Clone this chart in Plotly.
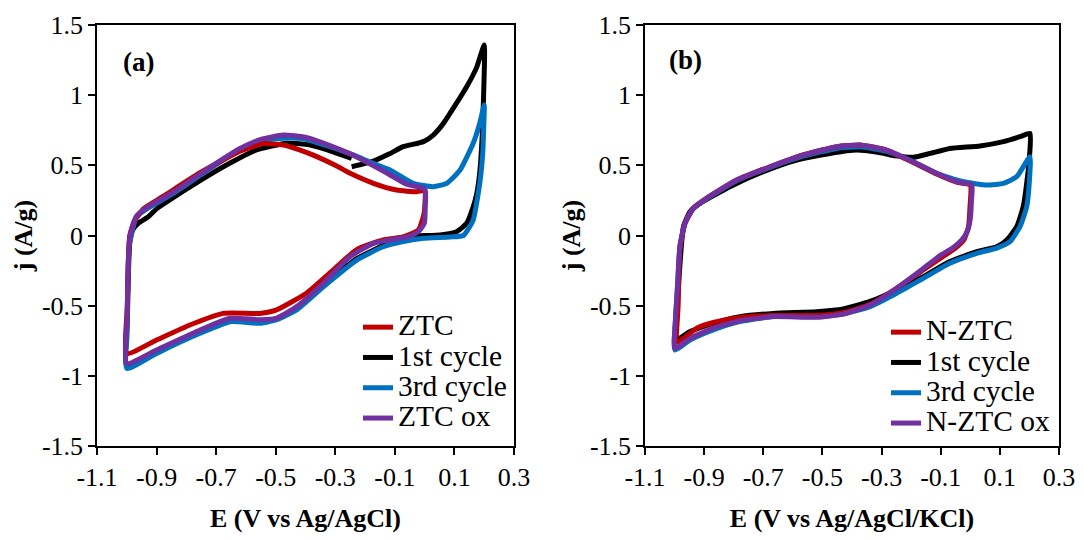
import plotly.graph_objects as go

# ---------------- data ----------------
# Panel (a)
a_ztc_E = [-1.0, -0.998, -0.995, -0.99, -0.975, -0.944, -0.877, -0.754, -0.62, -0.542, -0.474, -0.42, -0.362, -0.3, -0.25, -0.172, -0.094, -0.027, 0.0,
           -0.002, -0.021, -0.072, -0.139, -0.228, -0.318, -0.396, -0.497, -0.553, -0.676, -0.788, -0.9, -1.0]
a_ztc_j = [-0.84, -0.5, -0.2, 0.0, 0.1, 0.19, 0.28, 0.447, 0.60, 0.655, 0.645, 0.61, 0.562, 0.5, 0.443, 0.372, 0.324, 0.312, 0.32,
           0.158, 0.039, -0.01, -0.032, -0.10, -0.267, -0.41, -0.53, -0.555, -0.555, -0.638, -0.745, -0.84]

a_c1_E = [-0.245, -0.172, -0.12, -0.072, -0.004, 0.029, 0.06, 0.085, 0.141, 0.175, 0.2,
          0.198, 0.193, 0.185, 0.175, 0.163, 0.141, 0.107, 0.052, -0.027, -0.094,
          -0.139, -0.228, -0.34, -0.43, -0.497, -0.553, -0.653, -0.754, -0.9, -1.0,
          -0.998, -0.995, -0.99, -0.98, -0.96, -0.93, -0.9, -0.8, -0.732, -0.65, -0.564, -0.463, -0.4, -0.34, -0.245]
a_c1_j = [0.49, 0.53, 0.58, 0.633, 0.669, 0.716, 0.79, 0.87, 1.06, 1.2, 1.357,
          1.0, 0.7, 0.45, 0.3, 0.205, 0.087, 0.027, 0.004, -0.003, -0.02,
          -0.07, -0.165, -0.355, -0.52, -0.59, -0.615, -0.605, -0.685, -0.83, -0.93,
          -0.6, -0.3, -0.05, 0.04, 0.09, 0.13, 0.19, 0.33, 0.42, 0.52, 0.61, 0.657, 0.65, 0.62, 0.55]

a_c3_E = [-1.0, -0.999, -0.997, -0.993, -0.985, -0.967, -0.933, -0.844, -0.732, -0.62, -0.55, -0.497, -0.45, -0.407, -0.318, -0.24, -0.18, -0.116, -0.038, 0.029, 0.074, 0.119, 0.163, 0.185, 0.2,
          0.198, 0.195, 0.188, 0.18, 0.163, 0.13, 0.085, -0.004, -0.072, -0.139, -0.228, -0.34, -0.43, -0.497, -0.553, -0.653, -0.754, -0.9, -1.0]
a_c3_j = [-0.947, -0.7, -0.36, -0.1, 0.0, 0.134, 0.19, 0.30, 0.46, 0.61, 0.67, 0.69, 0.695, 0.69, 0.633, 0.574, 0.52, 0.467, 0.372, 0.348, 0.372, 0.467, 0.657, 0.8, 0.93,
          0.75, 0.586, 0.42, 0.30, 0.11, 0.0, -0.01, -0.02, -0.044, -0.08, -0.175, -0.365, -0.53, -0.60, -0.626, -0.614, -0.697, -0.84, -0.947]

a_ox_E = [-1.0, -0.999, -0.996, -0.992, -0.983, -0.967, -0.933, -0.844, -0.732, -0.62, -0.55, -0.474, -0.4, -0.318, -0.228, -0.139, -0.06, 0.001,
          0.002, -0.001, -0.021, -0.049, -0.116, -0.172, -0.25, -0.34, -0.43, -0.497, -0.553, -0.653, -0.754, -0.9, -1.0]
a_ox_j = [-0.911, -0.6, -0.3, -0.05, 0.05, 0.14, 0.2, 0.31, 0.47, 0.62, 0.685, 0.716, 0.70, 0.64, 0.56, 0.46, 0.365, 0.33,
          0.206, 0.087, 0.027, -0.004, -0.032, -0.056, -0.15, -0.34, -0.507, -0.59, -0.60, -0.59, -0.674, -0.816, -0.911]

# Panel (b)
b_nztc_E = [-0.99, -0.988, -0.982, -0.965, -0.937, -0.892, -0.79, -0.677, -0.565, -0.452, -0.373, -0.283, -0.193, -0.114, -0.046, 0.0,
            -0.001, -0.006, -0.022, -0.05, -0.102, -0.159, -0.249, -0.339, -0.43, -0.52, -0.666, -0.779, -0.869, -0.925, -0.99]
b_nztc_j = [-0.76, -0.5, -0.1, 0.087, 0.194, 0.265, 0.395, 0.49, 0.574, 0.633, 0.645, 0.609, 0.52, 0.438, 0.38, 0.36,
            0.206, 0.063, -0.032, -0.09, -0.163, -0.246, -0.376, -0.49, -0.55, -0.57, -0.57, -0.585, -0.62, -0.66, -0.76]

b_c1_E = [-0.271, -0.193, -0.136, -0.069, 0.033, 0.112, 0.168, 0.202,
          0.201, 0.196, 0.179, 0.157, 0.123, 0.089, 0.022, -0.069, -0.159, -0.249, -0.339, -0.43, -0.52, -0.666, -0.779, -0.869, -0.948, -0.995,
          -0.993, -0.985, -0.978, -0.97, -0.948, -0.914, -0.813, -0.7, -0.587, -0.474, -0.384, -0.294, -0.271]
b_c1_j = [0.574, 0.557, 0.585, 0.62, 0.638, 0.669, 0.704, 0.728,
          0.585, 0.467, 0.206, 0.063, -0.032, -0.08, -0.115, -0.186, -0.293, -0.388, -0.47, -0.524, -0.543, -0.555, -0.578, -0.626, -0.685, -0.745,
          -0.6, -0.3, -0.1, 0.063, 0.17, 0.229, 0.348, 0.455, 0.538, 0.585, 0.609, 0.585, 0.574]

b_c3_E = [-0.999, -0.997, -0.99, -0.982, -0.965, -0.937, -0.892, -0.79, -0.677, -0.565, -0.452, -0.373, -0.283, -0.193, -0.114, -0.023, 0.055, 0.112, 0.157, 0.202,
          0.2, 0.191, 0.168, 0.134, 0.089, 0.022, -0.069, -0.159, -0.249, -0.339, -0.43, -0.52, -0.666, -0.779, -0.869, -0.948, -0.999]
b_c3_j = [-0.816, -0.6, -0.36, -0.08, 0.087, 0.19, 0.26, 0.39, 0.485, 0.565, 0.62, 0.632, 0.60, 0.526, 0.443, 0.383, 0.36, 0.372, 0.419, 0.562,
          0.395, 0.206, 0.063, -0.044, -0.09, -0.127, -0.198, -0.305, -0.412, -0.507, -0.56, -0.578, -0.578, -0.614, -0.673, -0.745, -0.816]

b_ox_E = [-0.999, -0.997, -0.99, -0.982, -0.965, -0.937, -0.892, -0.79, -0.677, -0.565, -0.452, -0.373, -0.283, -0.193, -0.114, -0.046, 0.005,
          0.004, 0.0, -0.01, -0.028, -0.06, -0.1, -0.159, -0.249, -0.339, -0.43, -0.52, -0.666, -0.779, -0.869, -0.948, -0.999]
b_ox_j = [-0.804, -0.6, -0.36, -0.08, 0.087, 0.194, 0.265, 0.395, 0.49, 0.574, 0.633, 0.645, 0.609, 0.526, 0.443, 0.383, 0.36,
          0.25, 0.12, 0.03, -0.03, -0.09, -0.14, -0.235, -0.376, -0.495, -0.56, -0.583, -0.578, -0.607, -0.66, -0.733, -0.804]

x_tickvals = [-1.1, -0.9, -0.7, -0.5, -0.3, -0.1, 0.1, 0.3]
x_ticktext = ["-1.1", "-0.9", "-0.7", "-0.5", "-0.3", "-0.1", "0.1", "0.3"]
y_tickvals = [-1.5, -1.0, -0.5, 0.0, 0.5, 1.0, 1.5]
y_ticktext = ["-1.5", "-1", "-0.5", "0", "0.5", "1", "1.5"]

RED, BLACK, BLUE, PURPLE = "#C00000", "#000000", "#0070C0", "#7030A0"
FONT = "Liberation Serif"
LW = 5

def nm(t):
    return "<span style='font-size:29.5px'>" + t + "</span>"

fig = go.Figure()

def add(E, j, name, color, xa, ya, leg, rank):
    fig.add_trace(go.Scatter(x=E, y=j, mode="lines", name=nm(name),
                             line=dict(color=color, width=LW, shape="spline", smoothing=0.5),
                             xaxis=xa, yaxis=ya, legend=leg, legendrank=rank))

# panel a: draw order black, blue, red, purple
add(a_c1_E, a_c1_j, "1st cycle", BLACK, "x", "y", "legend", 2)
add(a_c3_E, a_c3_j, "3rd cycle", BLUE, "x", "y", "legend", 3)
add(a_ztc_E, a_ztc_j, "ZTC", RED, "x", "y", "legend", 1)
add(a_ox_E, a_ox_j, "ZTC ox", PURPLE, "x", "y", "legend", 4)
# panel b
add(b_c1_E, b_c1_j, "1st cycle", BLACK, "x2", "y2", "legend2", 2)
add(b_c3_E, b_c3_j, "3rd cycle", BLUE, "x2", "y2", "legend2", 3)
add(b_nztc_E, b_nztc_j, "N-ZTC", RED, "x2", "y2", "legend2", 1)
add(b_ox_E, b_ox_j, "N-ZTC ox", PURPLE, "x2", "y2", "legend2", 4)

W, H = 1084, 539
ML, MR, MT, MB = 97, 25, 25, 93
PW = W - ML - MR

common_x = dict(range=[-1.1, 0.3], tickvals=x_tickvals, ticktext=x_ticktext,
                showgrid=False, zeroline=False, showline=True, linecolor="black", linewidth=1.5,
                mirror=True, ticks="outside", ticklen=7, tickwidth=1.5, tickcolor="black",
                tickfont=dict(family=FONT, size=26, color="black"), automargin=False)
common_y = dict(range=[-1.5, 1.5], tickvals=y_tickvals, ticktext=y_ticktext,
                showgrid=False, zeroline=False, showline=True, linecolor="black", linewidth=1.5,
                mirror=True, ticks="outside", ticklen=7, tickwidth=1.5, tickcolor="black",
                tickfont=dict(family=FONT, size=26, color="black"), automargin=False,
                title=dict(text="<b>j (A/g)</b>", font=dict(family=FONT, size=26, color="black"), standoff=2))

fig.update_layout(
    width=W, height=H,
    margin=dict(l=ML, r=MR, t=MT, b=MB),
    paper_bgcolor="white", plot_bgcolor="white",
    font=dict(family=FONT, color="black"),
    xaxis=dict(common_x, domain=[0, 417 / PW], anchor="y",
               title=dict(text="<b>E (V vs Ag/AgCl)</b>", font=dict(family=FONT, size=26, color="black"), standoff=18)),
    yaxis=dict(common_y, domain=[0, 1], anchor="x"),
    xaxis2=dict(common_x, domain=[548 / PW, 1], anchor="y2",
                title=dict(text="<b>E (V vs Ag/AgCl/KCl)</b>", font=dict(family=FONT, size=26, color="black"), standoff=18)),
    yaxis2=dict(common_y, domain=[0, 1], anchor="x2"),
    legend=dict(x=(358 - ML) / PW, y=(446 - 307) / 421, xanchor="left", yanchor="top",
                bgcolor="rgba(0,0,0,0)", font=dict(family=FONT, size=21, color="black")),
    legend2=dict(x=(886 - ML) / PW, y=(446 - 312) / 421, xanchor="left", yanchor="top",
                 bgcolor="rgba(0,0,0,0)", font=dict(family=FONT, size=21, color="black")),
    showlegend=True,
    annotations=[
        dict(text="<b>(a)</b>", x=(138 - 97) / 417, y=(446 - 62) / 421, xref="x domain", yref="y domain",
             xanchor="center", yanchor="middle", showarrow=False,
             font=dict(family=FONT, size=27, color="black")),
        dict(text="<b>(b)</b>", x=(685 - 645) / 414, y=(446 - 60) / 421, xref="x2 domain", yref="y2 domain",
             xanchor="center", yanchor="middle", showarrow=False,
             font=dict(family=FONT, size=27, color="black")),
    ],
)

fig.write_html("out.html", config={"displayModeBar": False},
               post_script="document.body.style.margin='0px';")
